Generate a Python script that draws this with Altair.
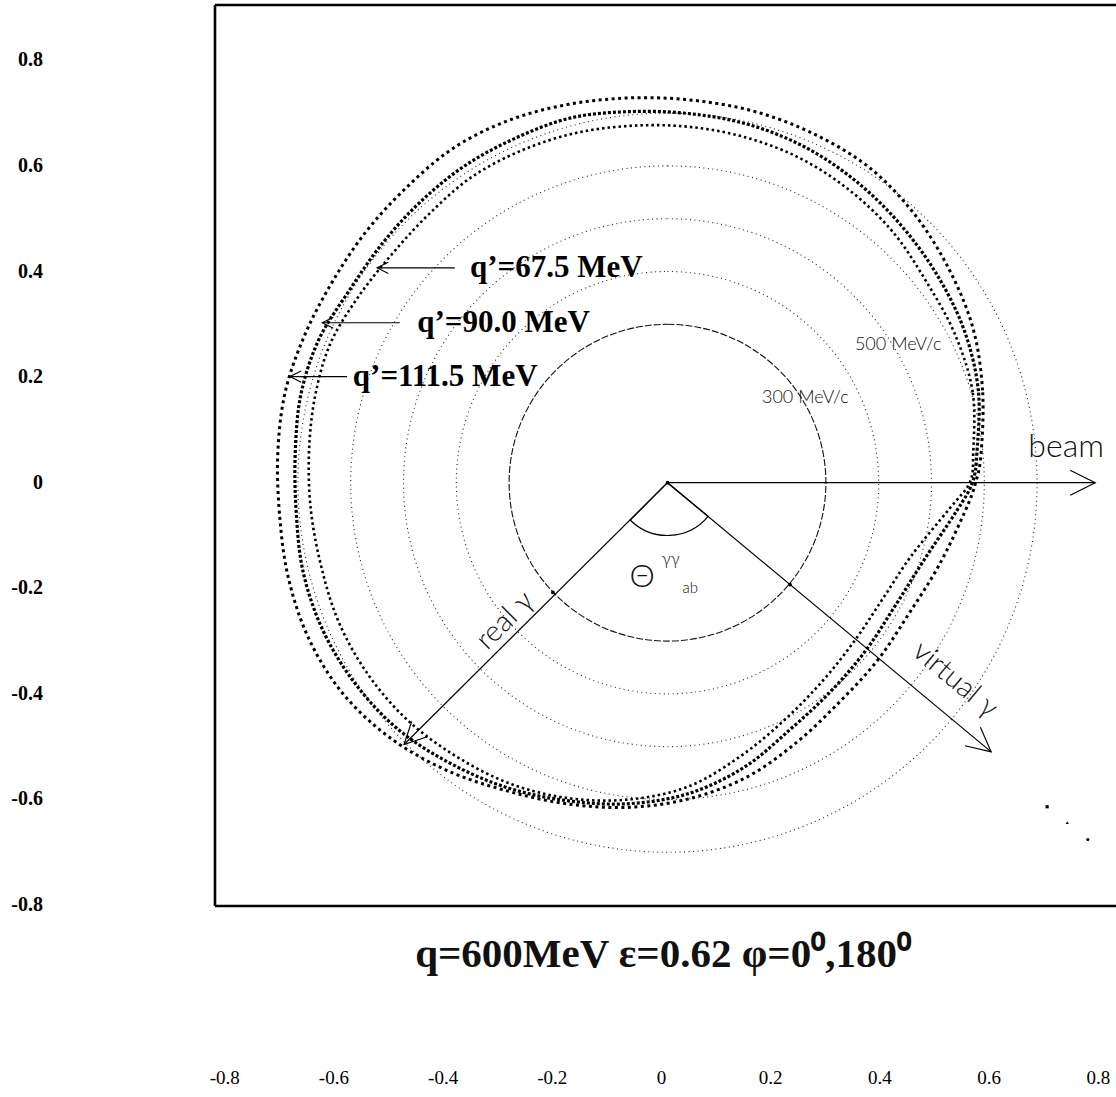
import altair as alt
import pandas as pd

# ---------------- data (momenta in GeV/c) ----------------
# Each q' loop is read as its distance r from a common loop centre at a set of
# polar angles (degrees, counter-clockwise from the beam direction).
loop_cx = -0.071
loop_cy = 0.057
loop_ang = [0, 10, 20, 30, 40, 50, 60, 70, 80, 90, 100, 110, 120, 130, 140, 150, 160, 170,
            180, 190, 200, 210, 220, 230, 240, 250, 260, 270, 280, 290, 300, 310, 320, 330,
            340, 350, 355]
# q' = 111.5 MeV (outermost, square markers)
r111 = [0.665, 0.678, 0.691, 0.697, 0.703, 0.705, 0.697, 0.688, 0.678, 0.672, 0.670, 0.670,
        0.667, 0.657, 0.652, 0.650, 0.655, 0.663, 0.667, 0.674, 0.689, 0.703, 0.710, 0.706,
        0.695, 0.682, 0.676, 0.672, 0.665, 0.653, 0.633, 0.617, 0.612, 0.610, 0.623, 0.644,
        0.657]
# q' = 90.0 MeV (triangle markers)
r90 = [0.657, 0.670, 0.674, 0.672, 0.670, 0.669, 0.667, 0.661, 0.652, 0.646, 0.644, 0.634,
       0.627, 0.619, 0.614, 0.614, 0.627, 0.633, 0.634, 0.642, 0.659, 0.672, 0.680, 0.684,
       0.680, 0.676, 0.670, 0.665, 0.655, 0.634, 0.606, 0.591, 0.583, 0.580, 0.593, 0.629,
       0.651]
# q' = 67.5 MeV (innermost, dot markers)
r67 = [0.650, 0.659, 0.655, 0.648, 0.650, 0.648, 0.644, 0.636, 0.627, 0.619, 0.614, 0.608,
       0.602, 0.591, 0.587, 0.593, 0.604, 0.606, 0.608, 0.614, 0.623, 0.638, 0.650, 0.659,
       0.663, 0.667, 0.665, 0.657, 0.642, 0.612, 0.585, 0.566, 0.555, 0.553, 0.568, 0.614,
       0.646]

# reference circles (GeV/c)
circle_solid = [0.3]
circle_dotted = [0.4, 0.5, 0.6, 0.7]

# photon / beam arrows: start and tip
arrow_names = ["beam", "real", "virtual"]
arrow_x0 = [0.0, 0.0, 0.0]
arrow_y0 = [0.0, 0.0, 0.0]
arrow_x1 = [0.810, -0.499, 0.613]
arrow_y1 = [0.000, -0.496, -0.510]

# q' label arrows
qlabels = ["q\u2019=67.5 MeV", "q\u2019=90.0 MeV", "q\u2019=111.5 MeV"]
qarrow_x0 = [-0.403, -0.507, -0.607]
qarrow_x1 = [-0.550, -0.654, -0.715]
qarrow_y = [0.407, 0.303, 0.201]
qlabel_x = [-0.374, -0.474, -0.596]

# opening angle arc (radius GeV/c, angles in radians from 12 o'clock, clockwise)
theta_r = [0.1]
theta_t0 = [2.264]
theta_t1 = [3.927]

# tick labels
ytick_values = [0.8, 0.6, 0.4, 0.2, 0.0, -0.2, -0.4, -0.6, -0.8]
xtick_values = [-0.8, -0.6, -0.4, -0.2, 0.0, 0.2, 0.4, 0.6, 0.8]

# small dots: centre, crossings with the 300 MeV/c circle
dot_x = [0.0, -0.217, 0.232]
dot_y = [0.0, -0.208, -0.193]
# three stray markers lower right
mk_x = [0.719, 0.757, 0.796]
mk_y = [-0.614, -0.644, -0.676]
mk_shape = ["square", "triangle-up", "circle"]

# ---------------- scales ----------------
W, H = 901, 901
XDOM = [-0.857, 0.8494]
YDOM = [-0.802, 0.905]
xs = alt.Scale(domain=XDOM, nice=False, zero=False)
ys = alt.Scale(domain=YDOM, nice=False, zero=False)
rs = alt.Scale(type="linear", domain=[0, 1], range=[0, 528], zero=True)

LABEL_EXPR = "datum.value == 0 ? '0' : (datum.value < 0 ? '-' : '') + format(abs(datum.value), '.1f')"


def X(f):
    return alt.X(f, type="quantitative", scale=xs, axis=None)


def Y(f):
    return alt.Y(f, type="quantitative", scale=ys, axis=None)


def R(f):
    return alt.Radius(f, type="quantitative", scale=rs, stack=False)


layers = []

# circles
solid_df = pd.DataFrame({"r": circle_solid, "cx": [0.0], "cy": [0.0]})
dot_df = pd.DataFrame({"r": circle_dotted, "cx": [0.0] * 4, "cy": [0.0] * 4})
layers.append(
    alt.Chart(dot_df).mark_arc(filled=False, stroke="#222222", strokeWidth=1.1,
                               strokeDash=[1, 3.5], theta=0, theta2=6.2832).encode(
        x=X("cx:Q"), y=Y("cy:Q"), radius=R("r:Q"))
)
layers.append(
    alt.Chart(solid_df).mark_arc(filled=False, stroke="#111111", strokeWidth=1.1,
                                 strokeDash=[7, 2], theta=0, theta2=6.2832).encode(
        x=X("cx:Q"), y=Y("cy:Q"), radius=R("r:Q"))
)
# opening angle arc
th_df = pd.DataFrame({"r": theta_r, "t0": theta_t0, "t1": theta_t1, "cx": [0.0], "cy": [0.0]})
layers.append(
    alt.Chart(th_df).mark_arc(filled=False, stroke="black", strokeWidth=1.2).encode(
        x=X("cx:Q"), y=Y("cy:Q"), radius=R("r:Q"),
        theta=alt.Theta("t0:Q", scale=None), theta2=alt.Theta2("t1:Q"))
)

# arrows
ar_df = pd.DataFrame({"n": arrow_names, "x0": arrow_x0, "y0": arrow_y0,
                      "x1": arrow_x1, "y1": arrow_y1})
layers.append(
    alt.Chart(ar_df).mark_rule(color="black", strokeWidth=1.2).encode(
        x=X("x0:Q"), y=Y("y0:Q"), x2="x1:Q", y2="y1:Q")
)
HEAD = "M -1 -0.5 L 0 0 L -1 0.5"
for i, (ang, size) in enumerate([(0, 2500), (135, 1900), (39.7, 2300)]):
    hd = pd.DataFrame({"x": [arrow_x1[i]], "y": [arrow_y1[i]]})
    layers.append(
        alt.Chart(hd).mark_point(shape=HEAD, filled=False, stroke="black", strokeWidth=1.2,
                                 size=size, angle=ang, opacity=1).encode(x=X("x:Q"), y=Y("y:Q"))
    )

q_df = pd.DataFrame({"lab": qlabels, "x0": qarrow_x0, "x1": qarrow_x1, "y": qarrow_y, "lx": qlabel_x})
layers.append(
    alt.Chart(q_df).mark_rule(color="black", strokeWidth=1.1).encode(
        x=X("x0:Q"), x2="x1:Q", y=Y("y:Q"))
)
layers.append(
    alt.Chart(q_df).mark_point(shape=HEAD, filled=False, stroke="black", strokeWidth=1.1,
                               size=500, angle=180, opacity=1).encode(x=X("x1:Q"), y=Y("y:Q"))
)
layers.append(
    alt.Chart(q_df).mark_text(align="left", baseline="middle", font="Liberation Serif",
                              fontWeight="bold", fontSize=31, color="black").encode(
        x=X("lx:Q"), y=Y("y:Q"), text="lab:N")
)

# loops (polar readings -> cartesian through a calculate transform)
for rr, dash, w in [(r111, [3, 3.5], 3.0), (r90, [3, 2], 3.2), (r67, [2.5, 3], 2.6)]:
    df = pd.DataFrame({"ang": loop_ang, "r": rr})
    layers.append(
        alt.Chart(df).transform_calculate(
            lx=f"{loop_cx} + datum.r * cos(datum.ang * PI / 180)",
            ly=f"{loop_cy} + datum.r * sin(datum.ang * PI / 180)",
        ).mark_line(color="black", strokeWidth=w, strokeDash=dash,
                    interpolate="cardinal-closed").encode(
            x=X("lx:Q"), y=Y("ly:Q"), order="ang:Q")
    )

# dots
dd = pd.DataFrame({"x": dot_x, "y": dot_y})
layers.append(alt.Chart(dd).mark_point(filled=True, color="black", size=14, opacity=1).encode(
    x=X("x:Q"), y=Y("y:Q")))
mk = pd.DataFrame({"x": mk_x, "y": mk_y})
for i in range(3):
    layers.append(alt.Chart(mk.iloc[[i]]).mark_point(filled=True, color="black", size=10,
                                                     shape=mk_shape[i], opacity=1).encode(
        x=X("x:Q"), y=Y("y:Q")))


# annotation texts
def label(text, x, y, size, angle=0, font="Lato", weight=300, align="center", baseline="middle"):
    d = pd.DataFrame({"t": [text], "x": [x], "y": [y]})
    return alt.Chart(d).mark_text(font=font, fontWeight=weight, fontSize=size, angle=angle,
                                  align=align, baseline=baseline, color="#111111").encode(
        x=X("x:Q"), y=Y("y:Q"), text="t:N")


layers.append(label("beam", 0.755, 0.068, 32))
layers.append(label("300 MeV/c", 0.261, 0.161, 18))
layers.append(label("500 MeV/c", 0.437, 0.261, 18))
layers.append(label("real \u03b3", -0.308, -0.261, 29, angle=315))
layers.append(label("virtual \u03b3", 0.545, -0.373, 29, angle=40))
layers.append(label("\u0398", -0.048, -0.178, 32))
layers.append(label("\u03b3\u03b3", 0.006, -0.146, 17))
layers.append(label("ab", 0.043, -0.199, 15))
layers.append(label("q=600MeV \u03b5=0.62 \u03c6=0\u2070,180\u2070", -0.0085, -0.9167, 41,
                    font="Liberation Serif", weight="bold", baseline="alphabetic"))

# frame (left, top, bottom)
fr = pd.DataFrame({"k": [0]})
layers.append(alt.Chart(fr).mark_rule(color="black", strokeWidth=2.6).encode(
    x=alt.value(0), y=alt.value(0), y2=alt.value(H)))
layers.append(alt.Chart(fr).mark_rule(color="black", strokeWidth=2.6).encode(
    x=alt.value(0), x2=alt.value(W), y=alt.value(0)))
layers.append(alt.Chart(fr).mark_rule(color="black", strokeWidth=2.6).encode(
    x=alt.value(0), x2=alt.value(W), y=alt.value(H)))

# left tick labels, placed through the y scale
ya = pd.DataFrame({"v": ytick_values})
layers.append(
    alt.Chart(ya).transform_calculate(
        lab="datum.v == 0 ? '0' : (datum.v < 0 ? '-' : '') + format(abs(datum.v), '.1f')"
    ).mark_text(align="right", baseline="middle", font="Liberation Serif", fontWeight="bold",
                fontSize=20, color="black").encode(
        x=alt.value(-172), y=Y("v:Q"), text="lab:N")
)

# bottom tick labels (their own scale, as printed)
xa = pd.DataFrame({"v": xtick_values, "y": [0.0] * len(xtick_values)})
layers.append(
    alt.Chart(xa).mark_point(opacity=0).encode(
        x=alt.X("v:Q", scale=alt.Scale(domain=[-0.8168, 0.8333], nice=False, zero=False),
                axis=alt.Axis(orient="bottom", values=xtick_values, offset=160, labelPadding=2,
                              ticks=False, domain=False, grid=False, title=None,
                              labelExpr=LABEL_EXPR, labelFont="Liberation Serif",
                              labelFontSize=19, labelColor="black", labelOverlap=False)),
        y=Y("y:Q"))
)

chart = alt.layer(*layers).resolve_scale(x="independent").properties(
    width=W, height=H,
    autosize=alt.AutoSizeParams(type="none"),
    padding={"left": 215, "top": 5, "right": 0, "bottom": 191},
).configure_view(strokeWidth=0)

chart.save("out.html", embed_options={"renderer": "svg", "actions": False})
